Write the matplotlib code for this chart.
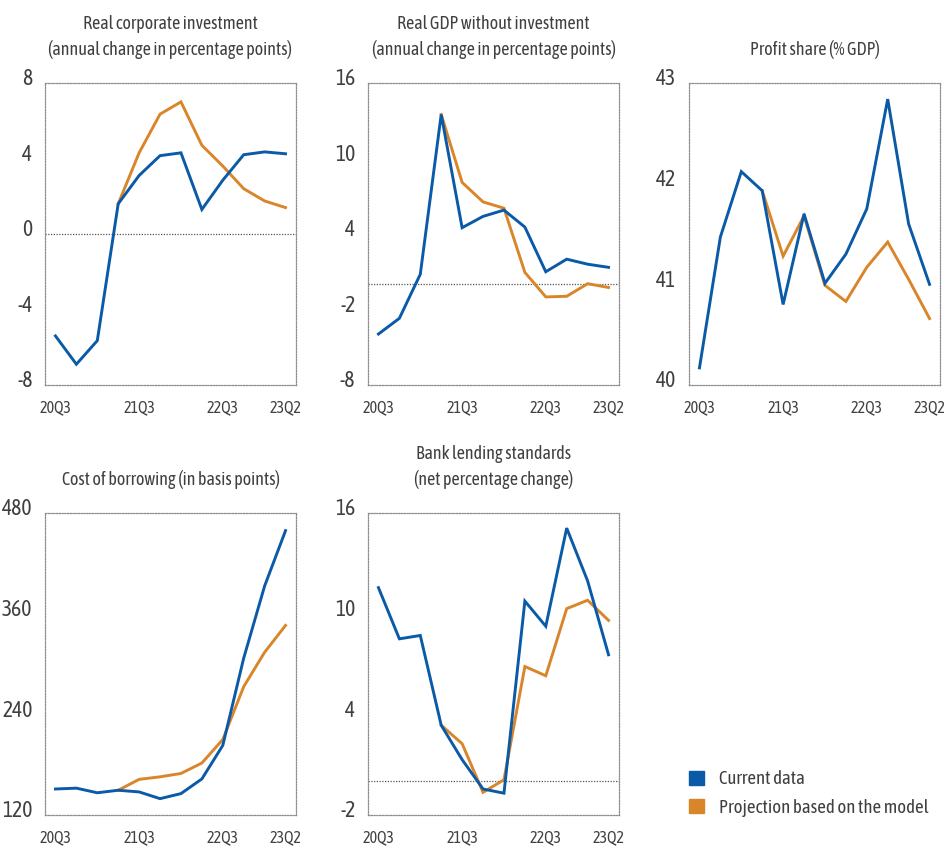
import numpy as np
import matplotlib
matplotlib.use("Agg")
import matplotlib.pyplot as plt
from matplotlib.transforms import ScaledTranslation

plt.rcParams['font.family'] = ['Asap Condensed', 'Archivo Narrow', 'DejaVu Sans']
plt.rcParams['axes.unicode_minus'] = False

# %% data
quarters = ["20Q3", "20Q4", "21Q1", "21Q2", "21Q3", "21Q4",
            "22Q1", "22Q2", "22Q3", "22Q4", "23Q1", "23Q2"]
shown_ticks = ["20Q3", "21Q3", "22Q3", "23Q2"]

invest_current = [-5.4, -6.9, -5.65, 1.6, 3.1, 4.15, 4.3, 1.3, 2.85, 4.2, 4.35, 4.25]
invest_proj = [None, None, None, 1.6, 4.3, 6.35, 7.0, 4.7, 3.6, 2.4, 1.75, 1.4]

gdp_current = [-3.95, -2.7, 0.8, 13.5, 4.5, 5.4, 5.9, 4.55, 1.0, 2.0, 1.6, 1.35]
gdp_proj = [None, None, None, 13.5, 8.1, 6.55, 6.05, 0.95, -1.0, -0.95, 0.05, -0.25]

profit_current = [40.17, 41.47, 42.12, 41.93, 40.8, 41.7, 41.01, 41.3, 41.75, 42.84, 41.6, 41.0]
profit_proj = [None, None, None, 41.93, 41.28, 41.68, 40.99, 40.83, 41.17, 41.42, 41.05, 40.66]

borrow_current = [151, 152, 146.5, 149.5, 147.5, 139.5, 145.5, 163, 203, 307, 393, 459]
borrow_proj = [None, None, None, 149.5, 162.5, 165.5, 169.5, 182, 210, 273, 314, 346]

lending_current = [11.55, 8.5, 8.7, 3.35, 1.3, -0.45, -0.7, 10.75, 9.25, 15.1, 11.95, 7.55]
lending_proj = [None, None, None, 3.35, 2.25, -0.65, 0.1, 6.85, 6.3, 10.3, 10.8, 9.6]

titles = ["Real corporate investment\n(annual change in percentage points)",
          "Real GDP without investment\n(annual change in percentage points)",
          "Profit share (% GDP)",
          "Cost of borrowing (in basis points)",
          "Bank lending standards\n(net percentage change)"]
y_ticks = [[-8, -4, 0, 4, 8],
           [-8, -2, 4, 10, 16],
           [40, 41, 42, 43],
           [120, 240, 360, 480],
           [-2, 4, 10, 16]]
series = [(invest_current, invest_proj),
          (gdp_current, gdp_proj),
          (profit_current, profit_proj),
          (borrow_current, borrow_proj),
          (lending_current, lending_proj)]
zero_line = [True, True, False, False, True]

blue = "#0a5aa8"
orange = "#d9862b"
text_col = "#404040"

# %% layout (pixel boxes: left, top, right, bottom)
W, H = 944, 846
boxes = [(45, 83, 296, 385),
         (368, 83, 619, 385),
         (689, 83, 940, 385),
         (45, 513, 296, 815),
         (368, 513, 619, 815)]

fig = plt.figure(figsize=(W / 100, H / 100), dpi=100)

x = np.arange(len(quarters))
tick_pos = [quarters.index(q) for q in shown_ticks]

for i, (l, t, r, b) in enumerate(boxes):
    ax = fig.add_axes([l / W, 1 - b / H, (r - l) / W, (b - t) / H])
    cur, proj = series[i]
    proj = np.array([np.nan if v is None else v for v in proj], dtype=float)
    ax.plot(x, proj, color=orange, lw=2.1, solid_joinstyle="miter", zorder=3)
    ax.plot(x, cur, color=blue, lw=2.1, solid_joinstyle="miter", zorder=4)
    if zero_line[i]:
        ax.axhline(0, color="#555555", lw=0.9, ls=(0, (1, 1.2)), zorder=2)

    ax.set_xlim(-0.5, 11.5)
    ax.set_ylim(y_ticks[i][0], y_ticks[i][-1])
    ax.set_yticks(y_ticks[i])
    ax.set_xticks(tick_pos)
    ax.set_xticklabels(shown_ticks)
    ax.tick_params(axis="y", length=0, pad=9, labelsize=15.5, labelcolor=text_col)
    ax.tick_params(axis="x", length=0, pad=10, labelsize=11.5, labelcolor=text_col)
    for lab in ax.get_yticklabels():
        lab.set_transform(lab.get_transform() + ScaledTranslation(0, 4.5 / 72, fig.dpi_scale_trans))
    for sp in ax.spines.values():
        sp.set_color("#8c8c8c")
        sp.set_linewidth(0.9)
        sp.set_linestyle((0, (1, 1.2)))
    ax.set_title(titles[i], fontsize=13, color=text_col, pad=20, linespacing=1.45)

# legend
lax = fig.add_axes([0.73, 0.0, 0.27, 0.14])
lax.axis("off")
h1 = plt.Rectangle((0, 0), 1, 1, color=blue)
h2 = plt.Rectangle((0, 0), 1, 1, color=orange)
lax.legend([h1, h2], ["Current data", "Projection based on the model"],
           loc="upper left", bbox_to_anchor=(0.0, 0.64), frameon=False,
           fontsize=13.5, labelcolor=text_col, handlelength=0.8, handleheight=0.8,
           handletextpad=0.8, labelspacing=0.55, borderpad=0, borderaxespad=0)

fig.savefig("out.png", dpi=100)
